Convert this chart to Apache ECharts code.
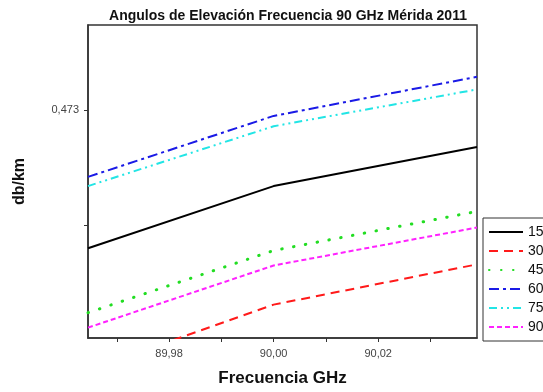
<!DOCTYPE html>
<html>
<head>
<meta charset="utf-8">
<script src="https://cdn.jsdelivr.net/npm/echarts@6/dist/echarts.min.js"></script>
<style>
  html, body { margin: 0; padding: 0; background: #fff; }
  #chart { width: 543px; height: 392px; }
</style>
</head>
<body>
<div id="chart"></div>
<script>
// frecuencias (GHz)
var frecuencias = [89.9645, 90.00, 90.0389];

// atenuacion db/km por angulo de elevacion
var serie15 = [0.47180, 0.47234, 0.47268];
var serie30 = [0.47074, 0.47131, 0.47166];
var serie45 = [0.47124, 0.47178, 0.47212];
var serie60 = [0.47242, 0.47295, 0.47329];
var serie75 = [0.47234, 0.47286, 0.47318];
var serie90 = [0.47111, 0.47165, 0.47198];

var nombres = ['15°', '30°', '45°', '60°', '75°', '90°'];

var xTicks = [89.97, 89.98, 89.99, 90.00, 90.01, 90.02, 90.03];
var xLabels = [89.98, 90.00, 90.02];
var yTicks = [0.472, 0.473];
var yLabels = [0.473];

function pares(valores) {
    return frecuencias.map(function (f, i) { return [f, valores[i]]; });
}

var estilos = [
    { color: '#000000', type: 'solid', cap: 'butt' },
    { color: '#ff1a1a', type: [9, 6], cap: 'butt' },
    { color: '#22dd22', type: [0.5, 11.5], cap: 'round' },
    { color: '#1a1ae6', type: [10, 4, 3, 4], cap: 'butt' },
    { color: '#22e5e5', type: [8, 4, 2, 4, 2, 4], cap: 'butt' },
    { color: '#ff22ff', type: [5, 3], cap: 'butt' }
];
var datos = [serie15, serie30, serie45, serie60, serie75, serie90];

var series = datos.map(function (d, i) {
    return {
        name: nombres[i],
        type: 'line',
        data: pares(d),
        showSymbol: false,
        symbol: 'none',
        color: estilos[i].color,
        lineStyle: {
            color: estilos[i].color,
            width: estilos[i].cap === 'round' ? 3 : 2,
            type: estilos[i].type,
            cap: estilos[i].cap
        }
    };
});

var chart = echarts.init(document.getElementById('chart'));
chart.setOption({
    animation: false,
    backgroundColor: '#ffffff',
    title: {
        text: 'Angulos de Elevación Frecuencia 90 GHz Mérida 2011',
        left: 283,
        textAlign: 'center',
        top: 4,
        textStyle: { fontFamily: 'Liberation Sans', fontSize: 14, fontWeight: 'bold', color: '#111' }
    },
    grid: {
        left: 88, right: 66, top: 25, bottom: 51,
        show: true, borderColor: '#333', borderWidth: 1.5
    },
    legend: {
        orient: 'vertical',
        left: 483,
        top: 218,
        padding: [7, 40, 7, 5],
        itemWidth: 34,
        itemHeight: 14,
        itemGap: 5,
        borderColor: '#333',
        borderWidth: 1,
        backgroundColor: '#fff',
        itemStyle: { opacity: 0 },
        textStyle: { fontFamily: 'Liberation Sans', fontSize: 14, color: '#111' },
        data: nombres
    },
    xAxis: {
        type: 'value',
        min: 89.9645,
        max: 90.0389,
        name: 'Frecuencia GHz',
        nameLocation: 'middle',
        nameGap: 32,
        nameTextStyle: { fontFamily: 'Liberation Sans', fontSize: 17, fontWeight: 'bold', color: '#111' },
        axisLine: { lineStyle: { color: '#333', width: 1.5 } },
        axisTick: { show: true, inside: false, length: 4, customValues: xTicks, lineStyle: { color: '#333' } },
        axisLabel: {
            customValues: xLabels,
            fontFamily: 'Liberation Sans', fontSize: 11, color: '#444', margin: 10,
            formatter: function (v) { return v.toFixed(2).replace('.', ','); }
        },
        splitLine: { show: false }
    },
    yAxis: {
        type: 'value',
        min: 0.47102,
        max: 0.47374,
        name: 'db/km',
        nameLocation: 'middle',
        nameGap: 60,
        nameTextStyle: { fontFamily: 'Liberation Sans', fontSize: 16, fontWeight: 'bold', color: '#111' },
        axisLine: { show: true, lineStyle: { color: '#333', width: 1.5 } },
        axisTick: { show: true, inside: false, length: 4, customValues: yTicks, lineStyle: { color: '#333' } },
        axisLabel: {
            customValues: yLabels,
            fontFamily: 'Liberation Sans', fontSize: 11, color: '#444', margin: 9,
            formatter: function (v) { return v.toFixed(3).replace('.', ','); }
        },
        splitLine: { show: false }
    },
    series: series
});
</script>
</body>
</html>
